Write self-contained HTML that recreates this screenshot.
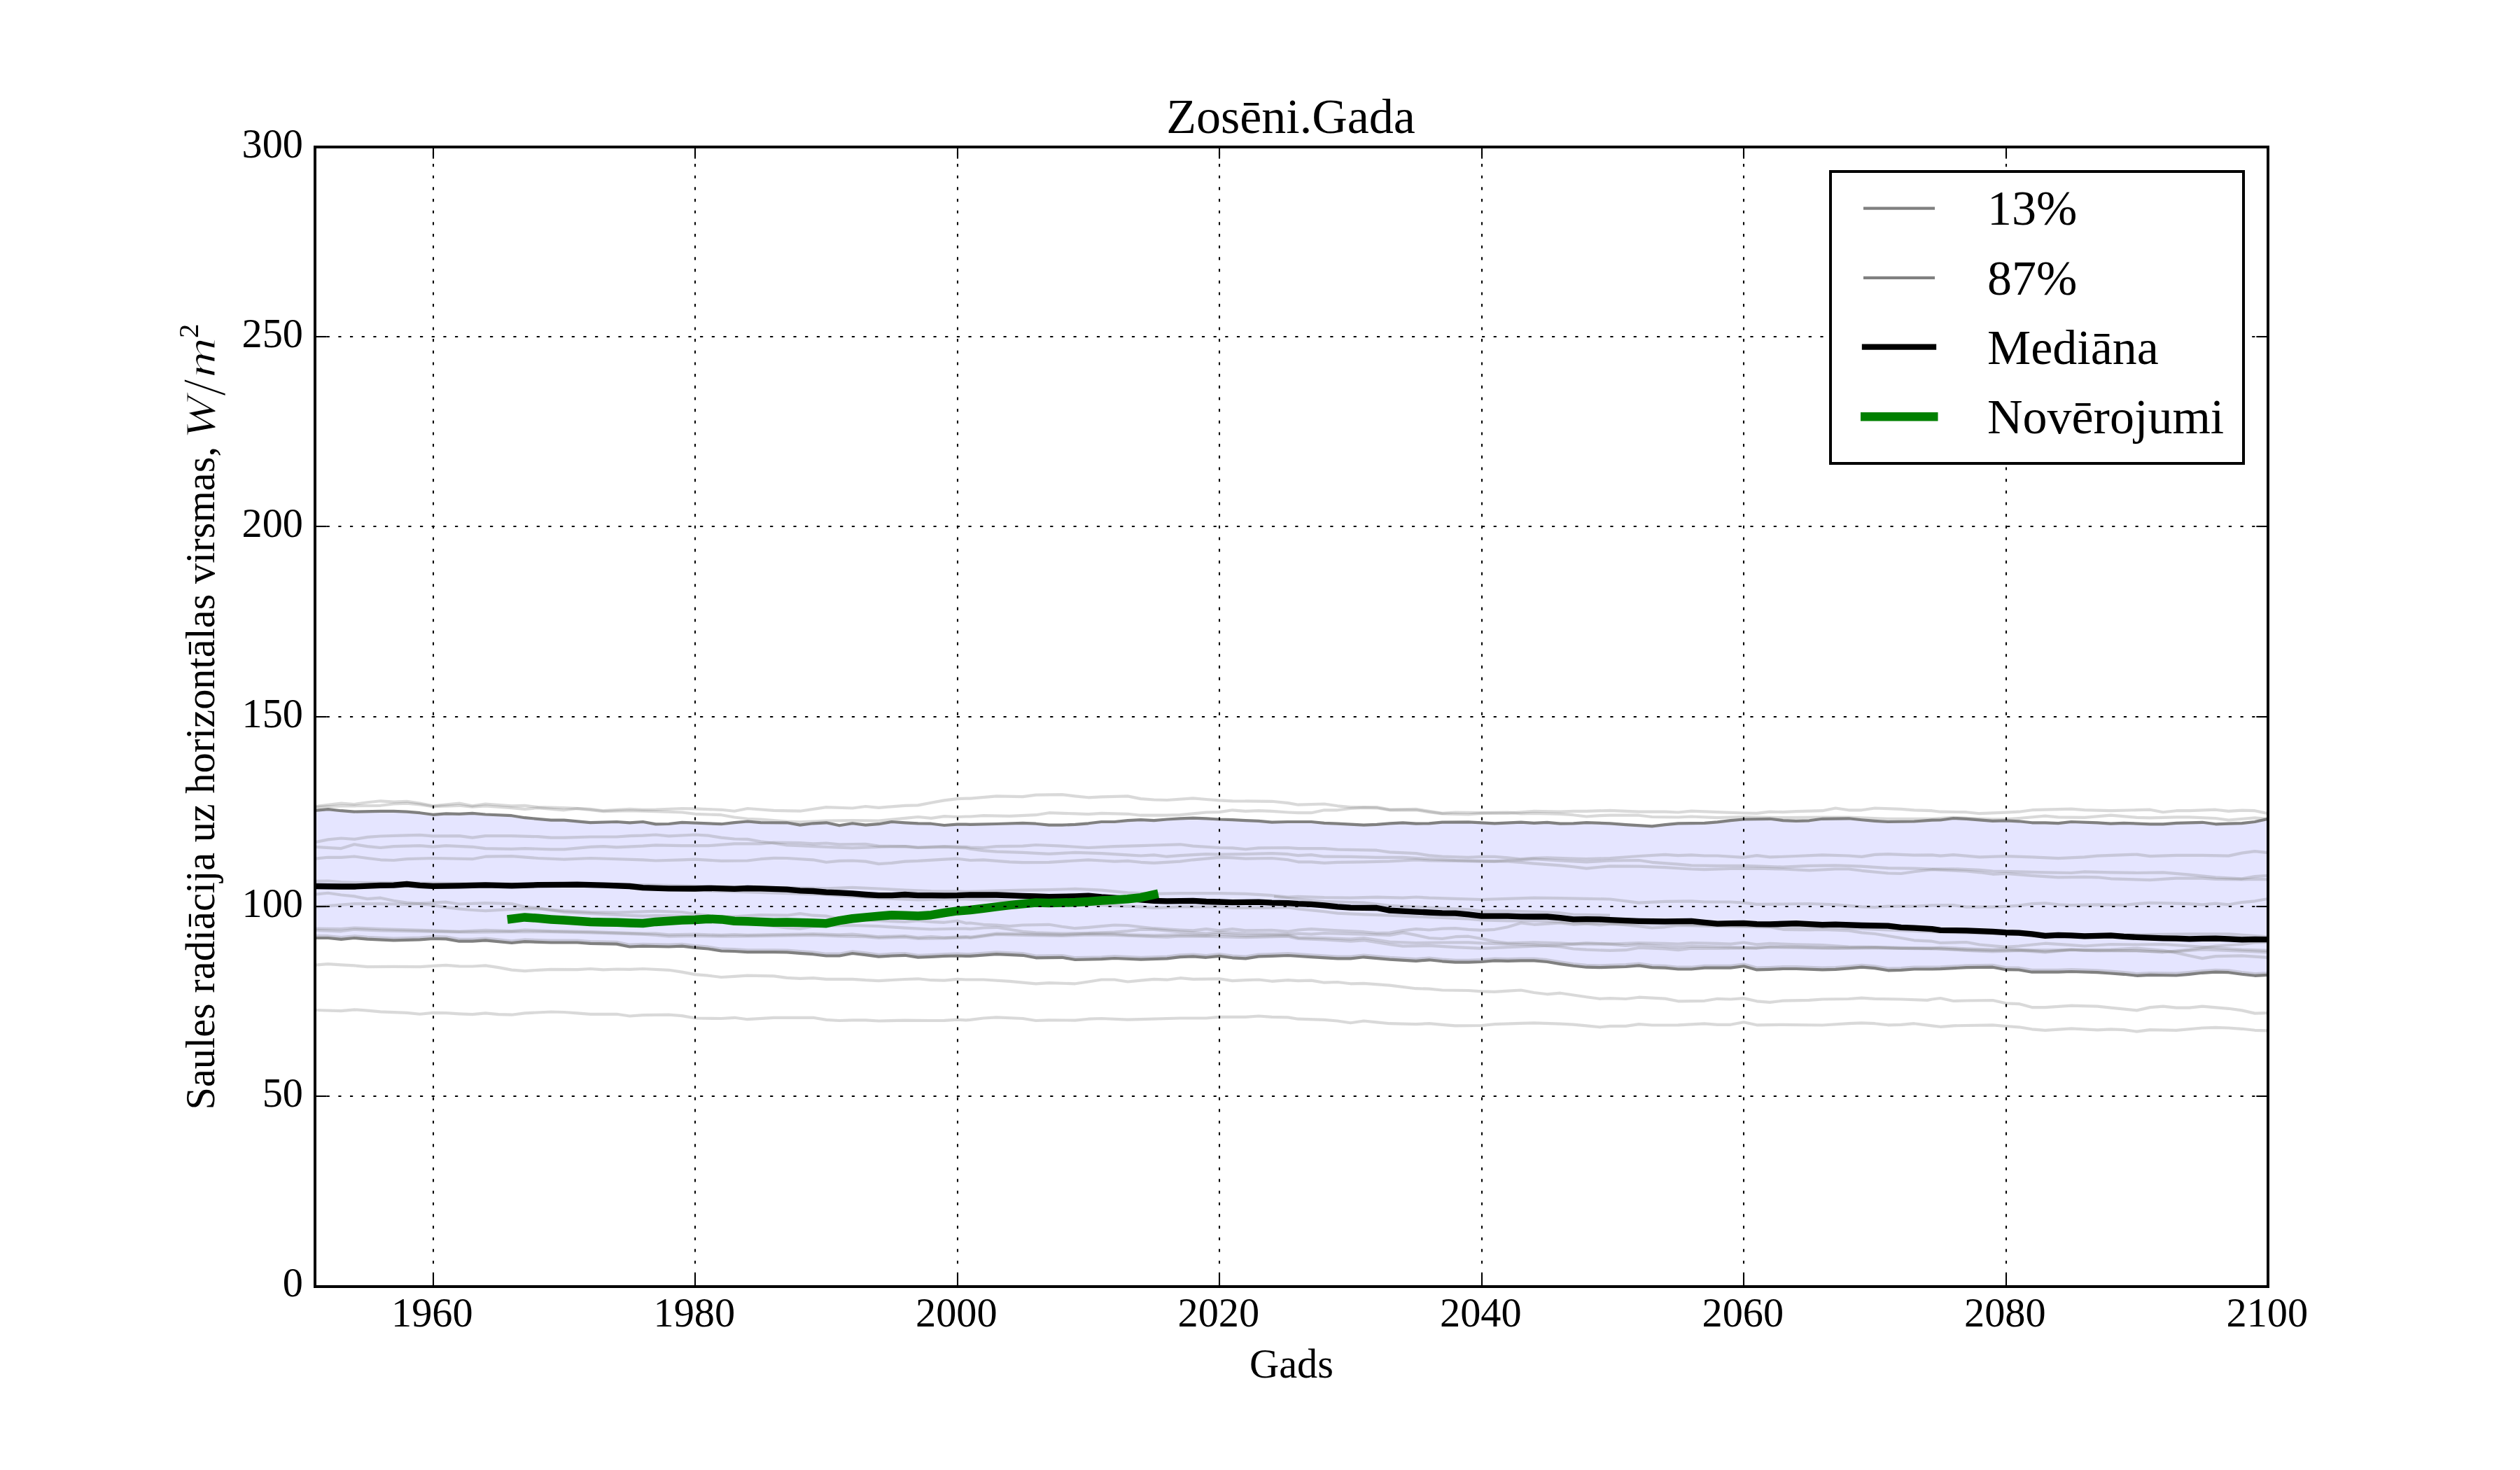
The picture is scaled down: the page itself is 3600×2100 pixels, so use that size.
<!DOCTYPE html>
<html lang="lv"><head><meta charset="utf-8"><title>Zosēni.Gada</title>
<style>html,body{margin:0;padding:0;background:#fff}svg{display:block;will-change:transform}text{font-family:"Liberation Serif","DejaVu Serif",serif;fill:#000}</style></head><body>
<svg width="3600" height="2100" viewBox="0 0 3600 2100">
<rect width="3600" height="2100" fill="#fff"/>
<defs><clipPath id="ax"><rect x="450" y="210" width="2790" height="1627.5"/></clipPath></defs>
<g clip-path="url(#ax)">
<polygon points="450.0,1157.8 468.7,1156.1 487.4,1158.2 506.2,1159.6 543.6,1158.9 562.4,1158.9 581.1,1159.6 599.8,1161.2 618.6,1163.8 637.3,1162.4 656.1,1162.8 674.8,1161.9 693.5,1163.5 731.0,1165.2 749.7,1168.2 787.2,1171.6 805.9,1171.6 843.4,1175.1 880.9,1174.0 899.6,1175.3 918.4,1174.0 936.8,1177.4 955.5,1177.0 974.3,1174.9 993.0,1175.6 1030.5,1177.2 1049.2,1175.1 1067.9,1173.5 1086.7,1175.1 1124.1,1175.3 1142.9,1178.6 1161.6,1176.3 1180.4,1175.3 1199.1,1179.3 1217.8,1176.3 1236.6,1178.6 1255.3,1177.2 1274.0,1174.0 1292.8,1175.3 1311.5,1176.3 1330.3,1176.7 1349.0,1179.0 1367.5,1177.7 1380.0,1177.7 1386.1,1177.9 1423.6,1177.0 1461.1,1175.8 1479.8,1176.7 1498.6,1178.6 1517.3,1178.6 1536.0,1177.9 1554.8,1176.3 1573.5,1174.0 1592.2,1174.0 1611.0,1172.1 1629.7,1171.2 1648.5,1172.1 1667.2,1170.5 1685.9,1169.3 1704.4,1168.6 1723.2,1169.3 1741.9,1170.5 1760.6,1171.2 1779.4,1172.1 1798.1,1172.8 1816.9,1174.6 1840.0,1174.0 1873.2,1174.0 1891.9,1175.8 1910.7,1176.7 1948.2,1178.6 1966.7,1177.9 1985.4,1176.3 2004.1,1175.3 2022.9,1176.7 2041.6,1176.3 2060.3,1174.6 2097.8,1174.4 2116.6,1175.3 2135.3,1176.3 2172.8,1174.6 2191.5,1175.8 2210.2,1174.9 2229.0,1176.7 2247.7,1176.3 2266.4,1175.1 2300.0,1176.3 2322.6,1178.1 2360.0,1180.4 2378.8,1178.1 2397.5,1176.3 2435.0,1175.8 2453.5,1174.4 2472.2,1172.1 2491.0,1170.5 2528.4,1169.8 2547.2,1172.1 2565.9,1172.8 2584.6,1172.3 2603.4,1169.8 2640.9,1169.3 2659.6,1171.2 2678.3,1172.8 2697.1,1174.0 2734.5,1173.5 2760.0,1171.6 2772.0,1171.5 2790.6,1169.0 2809.2,1169.8 2846.7,1172.8 2865.6,1172.3 2884.2,1173.3 2902.8,1175.3 2921.7,1175.3 2940.4,1176.1 2959.0,1174.0 2996.5,1175.3 3015.4,1176.6 3034.0,1175.8 3071.5,1177.3 3090.1,1177.3 3109.0,1175.8 3146.2,1174.8 3165.1,1177.3 3183.7,1176.6 3202.6,1176.1 3221.2,1174.0 3240.0,1169.8 3240.0,1392.8 3221.2,1393.8 3202.6,1391.8 3183.7,1389.2 3165.1,1388.7 3146.2,1389.8 3127.6,1391.8 3109.0,1393.5 3071.5,1392.8 3052.6,1393.8 3034.0,1391.8 3015.4,1390.5 2996.5,1389.2 2959.0,1388.0 2940.4,1388.7 2902.8,1388.7 2884.2,1385.5 2865.6,1385.2 2846.7,1381.7 2809.2,1382.2 2772.0,1384.2 2760.0,1384.5 2734.5,1384.5 2715.8,1385.8 2697.1,1386.3 2678.3,1383.1 2659.6,1381.7 2640.9,1383.3 2622.1,1384.9 2603.4,1385.4 2565.9,1384.0 2547.2,1384.0 2528.4,1384.9 2509.7,1385.4 2491.0,1380.3 2472.2,1382.6 2435.0,1382.6 2416.2,1384.5 2397.5,1384.5 2378.8,1382.6 2360.0,1382.1 2341.3,1379.4 2322.6,1381.0 2300.0,1381.7 2285.2,1382.1 2266.4,1381.7 2247.7,1379.8 2229.0,1377.1 2210.2,1374.0 2191.5,1372.4 2172.8,1372.4 2154.0,1372.9 2135.3,1372.4 2116.6,1374.0 2097.8,1374.7 2079.1,1374.7 2060.3,1373.3 2041.6,1371.3 2022.9,1372.9 1985.4,1370.6 1948.2,1367.3 1929.4,1369.4 1910.7,1369.4 1873.2,1367.1 1840.0,1365.0 1816.9,1365.9 1798.1,1366.4 1779.4,1369.4 1760.6,1368.3 1741.9,1365.9 1723.2,1367.8 1704.4,1366.4 1685.9,1367.1 1667.2,1369.4 1629.7,1370.6 1592.2,1369.0 1573.5,1370.1 1536.0,1371.0 1517.3,1367.8 1479.8,1368.3 1461.1,1364.8 1423.6,1363.2 1386.1,1365.9 1380.0,1365.9 1367.5,1365.5 1349.0,1365.9 1330.3,1366.9 1311.5,1367.6 1292.8,1364.8 1274.0,1365.5 1255.3,1366.6 1236.6,1364.1 1217.8,1362.0 1199.1,1365.5 1180.4,1365.5 1161.6,1363.2 1142.9,1361.8 1124.1,1360.4 1105.4,1360.2 1067.9,1360.2 1049.2,1359.0 1030.5,1358.5 1011.7,1355.5 993.0,1353.9 974.3,1351.6 955.5,1352.5 918.4,1351.6 899.6,1352.5 880.9,1348.6 843.4,1347.9 824.7,1346.5 787.2,1346.5 749.7,1345.1 731.0,1347.0 693.5,1343.3 674.8,1344.7 656.1,1344.7 637.3,1341.4 618.6,1341.0 599.8,1342.4 562.4,1343.3 524.9,1341.7 506.2,1340.0 487.4,1341.9 468.7,1340.0 450.0,1340.0" fill="#0000ff" fill-opacity="0.1"/>
<polyline points="450.0,1152.0 487.4,1147.6 506.2,1149.0 524.9,1146.2 543.6,1144.3 562.4,1145.7 581.1,1144.8 599.8,1147.6 618.6,1151.3 656.1,1147.6 674.8,1151.3 693.5,1148.5 731.0,1151.3 749.7,1150.8 768.5,1153.1 805.9,1154.1 843.4,1155.9 862.2,1158.2 899.6,1155.9 918.4,1156.8 936.8,1156.6 974.3,1155.0 993.0,1155.4 1030.5,1156.8 1049.2,1158.7 1067.9,1155.0 1105.4,1157.8 1142.9,1158.7 1180.4,1153.1 1217.8,1154.5 1236.6,1152.0 1255.3,1153.8 1292.8,1150.8 1311.5,1150.4 1330.3,1146.7 1349.0,1143.4 1367.5,1141.1 1380.0,1140.6 1386.1,1140.6 1423.6,1137.4 1461.1,1138.1 1479.8,1135.6 1517.3,1135.1 1536.0,1137.4 1554.8,1139.3 1573.5,1138.3 1611.0,1137.4 1629.7,1141.1 1648.5,1142.5 1667.2,1143.0 1704.4,1140.4 1723.2,1142.0 1741.9,1143.4 1760.6,1144.3 1816.9,1144.8 1840.0,1147.1 1854.5,1149.7 1891.9,1148.5 1910.7,1151.3 1929.4,1153.1 1966.7,1153.1 1985.4,1156.6 2022.9,1155.9 2041.6,1158.9 2060.3,1161.9 2079.1,1160.5 2116.6,1161.2 2154.0,1160.5 2172.8,1162.4 2191.5,1161.9 2229.0,1162.8 2247.7,1164.2 2266.4,1166.5 2285.2,1165.2 2300.0,1164.7 2341.3,1164.7 2360.0,1167.0 2397.5,1167.5 2416.2,1166.5 2453.5,1168.2 2491.0,1167.0 2547.2,1168.2 2603.8,1167.5 2640.9,1167.7 2696.4,1169.8 2760.0,1169.8 2790.3,1167.8 2845.7,1170.3 2865.6,1170.3 2884.2,1169.0 2921.7,1165.7 2940.4,1167.3 2977.9,1167.8 3015.4,1164.7 3052.6,1167.8 3071.5,1168.3 3109.0,1167.3 3127.6,1167.3 3165.1,1169.0 3183.7,1171.5 3221.2,1168.3 3240.0,1169.8" fill="none" stroke="#808080" stroke-opacity="0.3" stroke-width="4.17" stroke-linejoin="round"/>
<polyline points="450.0,1153.1 487.4,1151.3 506.2,1151.3 543.6,1150.8 562.4,1148.5 581.1,1147.6 599.8,1149.4 618.6,1152.2 656.1,1150.8 674.8,1152.7 693.5,1151.3 731.0,1154.1 749.7,1155.9 768.5,1154.1 805.9,1157.3 824.7,1155.0 862.2,1159.1 899.6,1158.2 918.4,1158.7 936.8,1159.1 974.3,1160.5 993.0,1162.8 1030.5,1164.2 1049.2,1167.5 1067.9,1169.8 1086.7,1170.7 1105.4,1172.1 1124.1,1173.5 1142.9,1174.4 1180.4,1172.6 1217.8,1172.1 1255.3,1172.6 1292.8,1168.9 1311.5,1167.0 1330.3,1168.9 1349.0,1166.1 1367.5,1167.0 1380.0,1166.5 1386.1,1166.5 1404.9,1165.2 1442.4,1165.9 1479.8,1164.2 1498.6,1161.2 1536.0,1162.4 1554.8,1163.1 1573.5,1161.9 1611.0,1162.8 1629.7,1164.7 1667.2,1164.7 1685.9,1164.2 1704.4,1162.4 1723.2,1160.5 1741.9,1160.1 1760.6,1157.3 1779.4,1158.9 1798.1,1158.2 1816.9,1158.9 1840.0,1160.5 1854.5,1161.2 1873.2,1161.2 1891.9,1157.3 1910.7,1157.3 1929.4,1155.0 1948.2,1153.8 1966.7,1154.3 1985.4,1157.3 2022.9,1157.3 2041.6,1160.1 2060.3,1162.4 2097.8,1163.5 2116.6,1161.9 2154.0,1161.9 2191.5,1158.9 2229.0,1159.6 2247.7,1158.9 2266.4,1158.9 2300.0,1157.8 2341.3,1159.6 2378.8,1159.6 2397.5,1160.5 2416.2,1158.7 2453.5,1160.1 2491.0,1161.5 2509.7,1161.9 2528.4,1159.6 2547.2,1160.1 2565.9,1159.1 2603.4,1158.2 2622.1,1154.5 2640.9,1157.3 2659.6,1157.3 2678.3,1154.5 2715.8,1155.9 2734.5,1157.3 2760.0,1158.2 2772.0,1159.7 2809.2,1160.2 2828.1,1162.2 2865.6,1160.7 2884.2,1159.7 2902.8,1157.2 2921.7,1156.7 2959.0,1155.7 2977.9,1157.2 3015.4,1158.2 3052.6,1157.2 3071.5,1156.7 3090.1,1160.2 3109.0,1158.2 3127.6,1158.2 3165.1,1156.7 3183.7,1158.9 3202.6,1157.7 3221.2,1158.2 3240.0,1162.2" fill="none" stroke="#808080" stroke-opacity="0.3" stroke-width="4.17" stroke-linejoin="round"/>
<polyline points="450.0,1203.1 468.7,1199.4 487.4,1197.5 506.2,1198.9 524.9,1195.9 543.6,1194.5 581.1,1193.4 599.8,1192.9 618.6,1194.3 656.1,1194.1 674.8,1196.6 693.5,1194.1 731.0,1194.1 768.5,1195.2 787.2,1196.6 805.9,1196.6 843.4,1195.5 880.9,1195.5 899.6,1194.1 918.4,1193.6 936.8,1192.5 955.5,1194.3 993.0,1192.5 1011.7,1193.6 1030.5,1196.6 1049.2,1198.5 1067.9,1198.9 1086.7,1202.2 1105.4,1204.5 1124.1,1207.5 1142.9,1208.2 1180.4,1209.8 1217.8,1211.4 1255.3,1209.8 1292.8,1209.1 1311.5,1211.0 1349.0,1209.8 1380.0,1211.4 1386.1,1212.8 1404.9,1215.1 1423.6,1216.7 1461.1,1217.9 1498.6,1219.8 1536.0,1217.9 1573.5,1219.1 1611.0,1221.4 1629.7,1222.5 1648.5,1221.4 1667.2,1223.7 1685.9,1222.1 1723.2,1220.2 1741.9,1220.7 1779.4,1220.2 1816.9,1219.1 1840.0,1220.2 1854.5,1222.1 1873.2,1221.1 1891.9,1223.7 1929.4,1223.9 1966.7,1224.8 2004.1,1224.8 2041.6,1227.2 2079.1,1229.0 2116.6,1229.9 2154.0,1230.6 2172.8,1231.8 2191.5,1233.6 2229.0,1236.4 2247.7,1238.3 2266.4,1240.6 2285.2,1238.7 2300.0,1237.3 2341.3,1237.6 2378.8,1239.2 2416.2,1241.5 2435.0,1242.2 2472.2,1241.0 2509.7,1240.6 2547.2,1241.5 2584.6,1243.3 2622.1,1241.5 2640.9,1241.5 2659.6,1243.8 2697.1,1247.5 2715.8,1248.0 2734.5,1245.2 2760.0,1242.2 2809.2,1244.5 2828.1,1246.3 2846.7,1248.8 2865.6,1247.8 2902.8,1250.8 2940.4,1253.3 2977.9,1252.8 2996.5,1253.3 3015.4,1255.3 3071.5,1257.1 3090.1,1255.8 3109.0,1254.6 3146.2,1254.6 3165.1,1255.8 3202.6,1256.4 3221.2,1255.8 3240.0,1256.4" fill="none" stroke="#808080" stroke-opacity="0.3" stroke-width="4.17" stroke-linejoin="round"/>
<polyline points="450.0,1209.8 487.4,1212.1 506.2,1206.3 524.9,1209.1 543.6,1211.0 562.4,1209.1 599.8,1208.2 618.6,1209.6 637.3,1208.2 674.8,1209.8 693.5,1212.1 731.0,1212.8 749.7,1212.1 787.2,1213.3 805.9,1213.3 843.4,1209.8 862.2,1209.1 880.9,1210.3 918.4,1208.6 936.8,1207.3 974.3,1208.2 1011.7,1208.2 1049.2,1205.4 1086.7,1205.4 1105.4,1203.6 1142.9,1204.0 1161.6,1205.4 1180.4,1204.5 1199.1,1206.3 1236.6,1205.9 1255.3,1208.6 1292.8,1209.1 1311.5,1210.5 1349.0,1209.1 1380.0,1209.8 1386.1,1210.5 1404.9,1211.0 1423.6,1209.1 1461.1,1208.6 1479.8,1207.0 1517.3,1208.6 1554.8,1211.0 1592.2,1209.1 1629.7,1208.2 1648.5,1207.5 1685.9,1206.3 1704.4,1208.6 1741.9,1211.0 1760.6,1211.4 1779.4,1213.3 1798.1,1211.4 1840.0,1211.0 1854.5,1212.1 1891.9,1212.1 1910.7,1213.7 1966.7,1214.7 1985.4,1217.4 2022.9,1219.1 2041.6,1222.1 2060.3,1223.7 2097.8,1224.8 2116.6,1223.9 2135.3,1223.9 2154.0,1225.3 2172.8,1227.2 2191.5,1225.8 2210.2,1225.3 2247.7,1226.7 2266.4,1227.2 2300.0,1226.0 2341.3,1223.0 2378.8,1220.9 2397.5,1222.1 2416.2,1221.4 2435.0,1222.5 2453.5,1222.5 2491.0,1224.8 2509.7,1222.1 2528.4,1224.4 2565.9,1223.0 2603.4,1221.4 2640.9,1222.5 2659.6,1223.9 2678.3,1220.9 2697.1,1220.2 2734.5,1221.6 2760.0,1221.4 2772.0,1222.6 2790.6,1221.1 2828.1,1224.4 2865.6,1223.1 2902.8,1224.4 2940.4,1226.1 2977.9,1224.4 2996.5,1222.6 3052.6,1220.6 3071.5,1223.1 3109.0,1221.9 3146.2,1221.9 3183.7,1222.6 3202.6,1218.6 3221.2,1216.1 3240.0,1218.1" fill="none" stroke="#808080" stroke-opacity="0.3" stroke-width="4.17" stroke-linejoin="round"/>
<polyline points="450.0,1226.7 468.7,1224.8 487.4,1224.8 506.2,1223.5 524.9,1226.0 543.6,1228.3 562.4,1229.0 581.1,1227.2 618.6,1226.0 674.8,1227.2 693.5,1223.7 731.0,1223.2 768.5,1226.0 805.9,1227.6 843.4,1226.0 918.4,1228.3 936.8,1229.5 974.3,1228.3 993.0,1227.6 1030.5,1229.9 1067.9,1229.5 1086.7,1227.2 1105.4,1225.8 1124.1,1226.0 1161.6,1228.3 1180.4,1231.8 1199.1,1229.9 1217.8,1229.5 1236.6,1230.6 1255.3,1234.1 1274.0,1232.9 1292.8,1230.6 1311.5,1229.9 1349.0,1227.6 1367.5,1226.7 1380.0,1228.3 1386.1,1229.0 1404.9,1228.3 1442.4,1231.3 1461.1,1232.2 1498.6,1231.8 1536.0,1229.5 1554.8,1228.3 1573.5,1229.5 1592.2,1230.6 1611.0,1229.9 1629.7,1231.8 1648.5,1232.9 1685.9,1230.6 1704.4,1228.3 1741.9,1224.8 1760.6,1225.3 1779.4,1226.7 1816.9,1226.0 1840.0,1228.3 1854.5,1231.3 1873.2,1231.3 1891.9,1232.9 1910.7,1231.8 1948.2,1231.3 1985.4,1230.4 2022.9,1228.3 2041.6,1229.5 2079.1,1229.9 2116.6,1230.6 2135.3,1230.6 2154.0,1229.0 2172.8,1228.3 2191.5,1227.2 2229.0,1229.5 2266.4,1231.3 2300.0,1229.5 2341.3,1229.0 2360.0,1231.8 2397.5,1234.6 2416.2,1236.4 2453.5,1236.9 2491.0,1236.9 2509.7,1237.3 2547.2,1238.7 2584.6,1236.9 2622.1,1236.4 2659.6,1237.6 2697.1,1240.1 2734.5,1240.6 2760.0,1241.5 2790.6,1241.3 2828.1,1242.8 2846.7,1244.5 2884.2,1245.3 2921.7,1246.3 2959.0,1247.0 2977.9,1245.3 3015.4,1246.3 3052.6,1247.0 3090.1,1246.3 3127.6,1249.6 3165.1,1253.3 3202.6,1255.3 3221.2,1252.1 3240.0,1250.8" fill="none" stroke="#808080" stroke-opacity="0.3" stroke-width="4.17" stroke-linejoin="round"/>
<polyline points="450.0,1258.8 468.7,1258.6 487.4,1260.0 506.2,1260.9 581.1,1261.4 694.5,1262.3 918.4,1264.2 1038.8,1266.9 1161.6,1268.8 1180.4,1269.3 1217.8,1267.9 1255.3,1269.5 1292.8,1271.6 1330.3,1273.0 1367.5,1273.4 1380.0,1273.9 1423.6,1272.5 1461.1,1271.6 1498.6,1271.1 1536.0,1269.9 1573.5,1271.6 1611.0,1275.3 1648.5,1276.9 1685.9,1276.2 1741.9,1276.2 1779.4,1276.9 1816.9,1279.2 1840.0,1281.5 1854.5,1280.8 1891.9,1282.2 1929.4,1282.7 1966.7,1281.7 2004.1,1282.7 2022.9,1281.5 2041.6,1282.7 2079.1,1283.8 2116.6,1285.0 2154.0,1283.8 2191.5,1282.7 2229.0,1283.1 2266.4,1283.8 2300.0,1284.5 2341.3,1289.6 2378.8,1287.8 2416.2,1287.3 2435.0,1288.5 2472.2,1288.5 2491.0,1289.6 2509.7,1291.9 2547.2,1291.5 2584.6,1291.0 2622.1,1292.4 2659.6,1295.4 2678.3,1296.1 2697.1,1294.7 2734.5,1294.7 2760.0,1293.3 2790.6,1293.1 2809.2,1295.6 2846.7,1295.6 2865.6,1294.9 2884.2,1293.6 2902.8,1291.1 2921.7,1290.3 2940.4,1292.3 2959.0,1293.1 2996.5,1292.3 3034.0,1293.1 3052.6,1291.1 3071.5,1289.8 3109.0,1290.6 3127.6,1291.1 3146.2,1292.3 3165.1,1290.6 3183.7,1292.3 3202.6,1289.1 3221.2,1287.3 3240.0,1284.0" fill="none" stroke="#808080" stroke-opacity="0.3" stroke-width="4.17" stroke-linejoin="round"/>
<polyline points="1820.0,1280.8 1854.5,1284.5 1891.9,1287.8 1948.2,1289.6 1985.4,1293.8 2022.9,1295.6 2060.3,1297.5 2097.8,1299.3 2116.6,1301.6 2154.0,1301.6 2191.5,1302.6 2229.0,1304.2 2247.7,1306.5 2300.0,1307.7" fill="none" stroke="#808080" stroke-opacity="0.3" stroke-width="4.17" stroke-linejoin="round"/>
<polyline points="450.0,1277.6 468.7,1275.7 487.4,1278.5 506.2,1280.4 524.9,1284.1 543.6,1282.7 562.4,1286.8 581.1,1289.6 599.8,1291.2 618.6,1293.1 637.3,1296.1 656.1,1298.4 674.8,1300.0 693.5,1301.2 731.0,1298.9 768.5,1298.4 805.9,1301.2 843.4,1303.0 880.9,1303.5 918.4,1302.3 936.8,1301.6 974.3,1303.0 993.0,1305.8 1011.7,1307.7 1049.2,1315.1 1105.4,1323.2 1124.1,1325.5 1142.9,1326.6 1161.6,1323.8 1180.4,1322.5 1217.8,1322.0 1255.3,1323.2 1292.8,1325.7 1330.3,1327.5 1367.5,1326.6 1380.0,1326.6 1386.1,1327.1 1404.9,1325.5 1423.6,1324.8 1442.4,1327.8 1461.1,1330.8 1479.8,1332.4 1517.3,1333.6 1554.8,1333.1 1592.2,1331.7 1611.0,1330.1 1629.7,1327.8 1648.5,1327.8 1685.9,1331.2 1723.2,1333.6 1741.9,1331.7 1779.4,1333.6 1840.0,1334.7 1854.5,1333.6 1873.2,1334.7 1891.9,1333.1 1910.7,1333.6 1948.2,1334.7 1985.4,1335.9 2004.1,1332.4 2022.9,1335.9 2041.6,1340.0 2060.3,1341.0 2079.1,1338.2 2097.8,1337.7 2116.6,1341.0 2135.3,1345.1 2154.0,1347.4 2191.5,1346.3 2229.0,1347.4 2247.7,1348.6 2266.4,1347.0 2300.0,1348.6 2341.3,1347.0 2378.8,1347.9 2397.5,1348.6 2416.2,1347.0 2453.5,1347.9 2472.2,1348.6 2491.0,1346.5 2509.7,1349.3 2528.4,1347.9 2565.9,1349.3 2603.4,1350.2 2640.9,1352.5 2678.3,1353.2 2715.8,1353.9 2760.0,1354.8 2772.0,1353.5 2809.2,1355.3 2846.7,1356.5 2865.6,1355.3 2902.8,1357.8 2921.7,1359.5 2959.0,1356.5 2977.9,1357.8 3015.4,1357.8 3052.6,1358.5 3090.1,1359.5 3109.0,1359.5 3146.2,1356.5 3183.7,1357.8 3221.2,1359.5 3240.0,1360.3" fill="none" stroke="#808080" stroke-opacity="0.3" stroke-width="4.17" stroke-linejoin="round"/>
<polyline points="450.0,1295.6 468.7,1294.2 506.2,1291.2 543.6,1291.2 581.1,1291.9 618.6,1289.6 637.3,1288.7 656.1,1291.5 693.5,1290.1 731.0,1291.0 749.7,1295.6 768.5,1297.0 787.2,1300.3 805.9,1303.0 843.4,1304.9 880.9,1307.0 918.4,1308.6 936.8,1308.1 974.3,1308.6 993.0,1309.3 1049.2,1309.3 1086.7,1307.2 1124.1,1307.7 1142.9,1305.1 1161.6,1307.7 1180.4,1308.6 1199.1,1312.7 1217.8,1313.9 1255.3,1315.1 1292.8,1316.9 1311.5,1315.1 1330.3,1316.9 1349.0,1317.8 1367.5,1315.5 1380.0,1318.8 1386.1,1318.5 1404.9,1320.8 1423.6,1321.5 1442.4,1323.2 1461.1,1321.5 1498.6,1320.8 1517.3,1323.8 1536.0,1326.2 1554.8,1324.8 1573.5,1323.2 1592.2,1321.5 1611.0,1322.0 1629.7,1324.3 1648.5,1326.2 1685.9,1328.5 1704.4,1329.4 1723.2,1327.1 1741.9,1329.4 1760.6,1327.1 1779.4,1329.4 1816.9,1328.9 1840.0,1330.8 1854.5,1328.5 1873.2,1327.1 1910.7,1329.4 1948.2,1331.2 1966.7,1333.1 1985.4,1332.6 2004.1,1329.4 2022.9,1327.1 2041.6,1328.5 2060.3,1326.6 2079.1,1326.2 2097.8,1327.8 2116.6,1328.9 2135.3,1327.8 2154.0,1324.3 2172.8,1318.5 2191.5,1320.8 2229.0,1318.5 2247.7,1320.8 2266.4,1319.7 2285.2,1321.5 2300.0,1320.1 2341.3,1319.7 2397.5,1320.1 2511.3,1323.2 2627.0,1325.5 2760.0,1331.2 2865.8,1334.4 2991.7,1335.9 3127.6,1334.4 3183.7,1334.4 3240.0,1338.4" fill="none" stroke="#808080" stroke-opacity="0.3" stroke-width="4.17" stroke-linejoin="round"/>
<polyline points="450.0,1326.6 487.4,1327.1 506.2,1325.5 543.6,1327.1 618.6,1329.4 656.1,1330.8 693.5,1328.9 731.0,1330.1 749.7,1328.5 787.2,1330.1 843.4,1331.2 918.4,1333.6 936.8,1333.6 955.5,1335.4 993.0,1334.7 1030.5,1335.9 1049.2,1335.0 1067.9,1335.9 1105.4,1335.0 1142.9,1334.5 1161.6,1334.0 1199.1,1335.4 1217.8,1334.7 1236.6,1336.3 1255.3,1338.2 1292.8,1337.0 1311.5,1339.3 1330.3,1338.2 1349.0,1339.3 1380.0,1338.2 1386.1,1338.7 1404.9,1336.3 1423.6,1333.6 1461.1,1334.0 1479.8,1334.7 1517.3,1335.4 1554.8,1333.6 1592.2,1334.0 1611.0,1335.4 1648.5,1336.3 1685.9,1335.4 1723.2,1336.3 1741.9,1334.7 1779.4,1337.0 1840.0,1335.9 1854.5,1339.3 1891.9,1340.0 1929.4,1341.7 1948.2,1340.0 1966.7,1342.8 1985.4,1345.6 2022.9,1347.0 2060.3,1346.5 2097.8,1346.3 2116.6,1347.4 2154.0,1348.6 2191.5,1349.8 2229.0,1352.5 2247.7,1355.5 2266.4,1356.7 2300.0,1357.9 2322.6,1357.2 2341.3,1353.9 2378.8,1355.5 2397.5,1357.2 2416.2,1354.8 2453.5,1354.8 2491.0,1354.4 2528.4,1353.2 2565.9,1353.9 2622.1,1354.8 2678.3,1354.4 2760.0,1355.5 2846.7,1357.8 3015.4,1356.5 3052.6,1354.5 3090.1,1357.8 3109.0,1361.1 3127.6,1365.3 3146.2,1369.1 3165.1,1366.1 3202.6,1365.3 3221.2,1366.6 3240.0,1367.9" fill="none" stroke="#808080" stroke-opacity="0.3" stroke-width="4.17" stroke-linejoin="round"/>
<polyline points="450.0,1328.9 487.4,1330.3 506.2,1327.8 543.6,1329.4 618.6,1330.8 674.8,1331.7 731.0,1331.2 787.2,1331.2 843.4,1332.4 918.4,1334.7 936.8,1335.9 955.5,1337.7 993.0,1337.0 1030.5,1337.7 1067.9,1337.3 1105.4,1336.8 1161.6,1335.9 1199.1,1337.3 1236.6,1338.2 1255.3,1340.0 1292.8,1338.7 1311.5,1341.0 1349.0,1340.5 1380.0,1339.3 1386.1,1340.0 1423.6,1335.0 1461.1,1335.9 1517.3,1337.0 1554.8,1335.4 1592.2,1335.9 1648.5,1338.2 1667.2,1338.7 1685.9,1337.3 1723.2,1337.7 1779.4,1339.1 1840.0,1337.7 1854.5,1341.0 1891.9,1342.4 1929.4,1344.7 1948.2,1343.3 1985.4,1349.3 2004.1,1351.6 2041.6,1350.9 2079.1,1353.2 2116.6,1354.8 2154.0,1353.2 2191.5,1351.6 2229.0,1350.2 2247.7,1348.6 2300.0,1348.6 2322.6,1350.9 2341.3,1349.3 2378.8,1352.1 2397.5,1353.2 2416.2,1351.6 2453.5,1352.5 2491.0,1353.9 2509.7,1354.8 2528.4,1352.5 2565.9,1352.5 2603.4,1353.9 2640.9,1353.9 2678.3,1353.2 2715.8,1354.8 2760.0,1354.4 2809.2,1357.8 2846.7,1359.5 2884.2,1357.8 2921.7,1360.3 2959.0,1357.0 2996.5,1358.5 3052.6,1357.8 3090.1,1360.3 3127.6,1356.5 3165.1,1351.5 3202.6,1349.0 3221.2,1346.5 3240.0,1346.0" fill="none" stroke="#808080" stroke-opacity="0.3" stroke-width="4.17" stroke-linejoin="round"/>
<polyline points="450.0,1378.7 468.7,1377.1 487.4,1378.4 506.2,1379.4 524.9,1381.2 562.4,1380.8 599.8,1381.2 618.6,1379.8 637.3,1378.9 656.1,1380.3 674.8,1380.5 693.5,1379.4 712.3,1382.1 731.0,1385.6 749.7,1387.2 768.5,1385.8 787.2,1384.9 824.7,1385.1 843.4,1384.0 862.2,1385.4 880.9,1384.5 899.6,1384.9 918.4,1384.0 955.5,1385.8 974.3,1388.6 993.0,1392.1 1011.7,1393.7 1030.5,1396.0 1049.2,1394.9 1067.9,1393.7 1105.4,1394.4 1124.1,1396.9 1142.9,1397.9 1161.6,1397.2 1180.4,1398.8 1217.8,1398.8 1236.6,1400.2 1255.3,1401.1 1292.8,1399.0 1311.5,1398.3 1330.3,1400.2 1349.0,1400.6 1367.5,1398.8 1380.0,1399.5 1404.9,1399.5 1442.4,1401.8 1479.8,1405.3 1498.6,1404.1 1536.0,1405.3 1554.8,1402.5 1573.5,1399.5 1592.2,1399.5 1611.0,1402.5 1629.7,1400.6 1648.5,1398.8 1667.2,1399.7 1685.9,1397.2 1704.4,1398.8 1741.9,1398.3 1760.6,1401.1 1779.4,1400.2 1798.1,1399.5 1816.9,1401.8 1840.0,1400.2 1854.5,1401.1 1873.2,1400.6 1891.9,1403.7 1910.7,1403.0 1929.4,1405.3 1948.2,1404.8 1985.4,1407.6 2022.9,1412.2 2041.6,1412.7 2060.3,1414.5 2097.8,1415.0 2116.6,1416.4 2135.3,1416.8 2154.0,1415.7 2172.8,1414.5 2191.5,1418.0 2210.2,1420.3 2229.0,1418.7 2247.7,1421.5 2266.4,1424.2 2285.2,1426.8 2300.0,1426.1 2322.6,1427.0 2341.3,1424.7 2378.8,1426.6 2397.5,1430.3 2435.0,1429.8 2453.5,1426.8 2472.2,1427.5 2491.0,1426.1 2509.7,1430.3 2528.4,1431.9 2547.2,1429.6 2584.6,1428.9 2603.4,1427.5 2640.9,1427.0 2659.6,1425.6 2678.3,1426.8 2715.8,1427.5 2753.3,1428.9 2760.0,1427.5 2772.0,1426.0 2790.6,1430.0 2809.2,1429.5 2846.7,1429.0 2865.6,1433.3 2884.2,1434.1 2902.8,1439.1 2921.7,1439.1 2959.0,1436.6 2996.5,1437.6 3015.4,1439.6 3052.6,1443.4 3071.5,1439.1 3090.1,1437.6 3109.0,1439.6 3127.6,1439.6 3146.2,1437.6 3183.7,1440.8 3202.6,1443.4 3221.2,1447.6 3240.0,1447.1" fill="none" stroke="#808080" stroke-opacity="0.3" stroke-width="4.17" stroke-linejoin="round"/>
<polyline points="450.0,1443.0 487.4,1444.1 506.2,1442.3 524.9,1443.7 543.6,1445.3 581.1,1446.9 599.8,1448.8 618.6,1446.9 637.3,1447.1 656.1,1448.3 674.8,1449.2 693.5,1447.4 712.3,1449.2 731.0,1449.7 749.7,1447.4 787.2,1445.5 805.9,1446.0 824.7,1447.4 843.4,1448.8 880.9,1448.8 899.6,1451.5 918.4,1450.1 955.5,1449.7 974.3,1451.1 993.0,1454.5 1030.5,1455.0 1049.2,1453.8 1067.9,1456.2 1105.4,1453.8 1161.6,1453.8 1180.4,1456.9 1199.1,1458.0 1217.8,1457.3 1236.6,1457.3 1255.3,1458.5 1292.8,1457.6 1330.3,1458.0 1349.0,1457.8 1367.5,1456.6 1380.0,1457.3 1386.1,1456.9 1404.9,1454.5 1423.6,1453.4 1461.1,1455.0 1479.8,1458.0 1498.6,1457.3 1536.0,1457.6 1554.8,1455.7 1573.5,1455.0 1611.0,1456.6 1629.7,1456.2 1685.9,1454.5 1723.2,1454.5 1741.9,1452.9 1779.4,1452.9 1798.1,1451.5 1816.9,1452.9 1840.0,1453.4 1854.5,1455.7 1891.9,1456.9 1910.7,1458.5 1929.4,1461.3 1948.2,1458.5 1966.7,1460.3 1985.4,1462.2 2022.9,1463.1 2041.6,1462.2 2060.3,1463.8 2079.1,1465.4 2116.6,1465.0 2135.3,1463.1 2172.8,1461.9 2191.5,1461.3 2229.0,1462.6 2247.7,1463.6 2266.4,1465.4 2285.2,1467.3 2300.0,1465.9 2322.6,1465.9 2341.3,1463.1 2360.0,1464.5 2397.5,1464.3 2435.0,1462.4 2453.5,1463.8 2472.2,1463.8 2491.0,1460.3 2509.7,1464.3 2547.2,1463.8 2603.4,1464.5 2640.9,1462.2 2659.6,1461.3 2678.3,1462.2 2697.1,1464.3 2715.8,1463.8 2734.5,1462.2 2760.0,1465.4 2772.0,1466.8 2790.6,1465.3 2846.7,1464.3 2865.6,1466.0 2884.2,1467.3 2902.8,1470.3 2921.7,1471.8 2959.0,1469.3 2996.5,1471.3 3015.4,1470.3 3034.0,1471.1 3052.6,1473.6 3071.5,1471.1 3109.0,1471.8 3146.2,1468.5 3165.1,1467.8 3183.7,1468.5 3202.6,1469.8 3221.2,1471.8 3240.0,1472.3" fill="none" stroke="#808080" stroke-opacity="0.3" stroke-width="4.17" stroke-linejoin="round"/>
<polyline points="450.0,1337.2 468.7,1337.2 487.4,1339.1 506.2,1337.2 524.9,1338.9 562.4,1340.5 599.8,1339.6 618.6,1338.2 637.3,1338.6 656.1,1341.9 674.8,1341.9 693.5,1340.5 731.0,1344.2 749.7,1342.3 787.2,1343.7 824.7,1343.7 843.4,1345.1 880.9,1345.8 899.6,1349.7 918.4,1348.8 955.5,1349.7 974.3,1348.8 993.0,1351.1 1011.7,1352.7 1030.5,1355.7 1049.2,1356.2 1067.9,1357.4 1105.4,1357.4 1124.1,1357.6 1142.9,1359.0 1161.6,1360.4 1180.4,1362.7 1199.1,1362.7 1217.8,1359.2 1236.6,1361.3 1255.3,1363.8 1274.0,1362.7 1292.8,1362.0 1311.5,1364.8 1330.3,1364.1 1349.0,1363.1 1367.5,1362.7 1380.0,1363.1 1386.1,1363.1 1423.6,1360.4 1461.1,1362.0 1479.8,1365.5 1517.3,1365.0 1536.0,1368.2 1573.5,1367.3 1592.2,1366.2 1629.7,1367.8 1667.2,1366.6 1685.9,1364.3 1704.4,1363.6 1723.2,1365.0 1741.9,1363.1 1760.6,1365.5 1779.4,1366.6 1798.1,1363.6 1816.9,1363.1 1840.0,1362.2 1873.2,1364.3 1910.7,1366.6 1929.4,1366.6 1948.2,1364.5 1985.4,1367.8 2022.9,1370.1 2041.6,1368.5 2060.3,1370.5 2079.1,1371.9 2097.8,1371.9 2116.6,1371.2 2135.3,1369.6 2154.0,1370.1 2172.8,1369.6 2191.5,1369.6 2210.2,1371.2 2229.0,1374.3 2247.7,1377.0 2266.4,1378.9 2285.2,1379.3 2300.0,1378.9 2322.6,1378.2 2341.3,1376.6 2360.0,1379.3 2378.8,1379.8 2397.5,1381.7 2416.2,1381.7 2435.0,1379.8 2472.2,1379.8 2491.0,1377.5 2509.7,1382.6 2528.4,1382.1 2547.2,1381.2 2565.9,1381.2 2603.4,1382.6 2622.1,1382.1 2640.9,1380.5 2659.6,1378.9 2678.3,1380.3 2697.1,1383.5 2715.8,1383.0 2734.5,1381.7 2760.0,1381.7 2772.0,1381.4 2809.2,1379.4 2846.7,1378.9 2865.6,1382.4 2884.2,1382.7 2902.8,1385.9 2940.4,1385.9 2959.0,1385.2 2996.5,1386.4 3015.4,1387.7 3034.0,1389.0 3052.6,1391.0 3071.5,1390.0 3109.0,1390.7 3127.6,1389.0 3146.2,1387.0 3165.1,1385.9 3183.7,1386.4 3202.6,1389.0 3221.2,1391.0 3240.0,1390.0" fill="none" stroke="#808080" stroke-opacity="0.3" stroke-width="4.17" stroke-linejoin="round"/>
<polyline points="900.0,1268.8 1177.6,1278.0 1255.3,1283.1 1311.5,1285.4 1349.0,1284.5 1380.0,1284.5 1406.3,1285.4 1498.8,1289.6 1591.3,1293.8 1629.7,1295.4 1648.5,1297.0 1685.9,1295.4 1741.9,1295.4 1760.6,1297.0 1816.9,1296.6 1840.0,1296.1 1854.5,1298.4 1891.9,1302.3 1910.7,1304.6 1948.2,1306.3 1985.4,1307.7 2022.9,1309.3 2060.3,1310.9 2097.8,1312.7 2116.6,1314.4 2154.0,1315.5 2191.5,1315.1 2229.0,1316.9 2247.7,1318.5 2300.0,1319.2 2341.3,1323.2 2360.0,1325.5 2378.8,1324.3 2397.5,1322.0 2453.5,1323.2 2528.4,1324.3 2547.2,1327.8 2584.6,1328.5 2603.4,1327.8 2640.9,1329.4 2659.6,1332.4 2678.3,1334.0 2697.1,1337.0 2715.8,1340.0 2734.5,1343.3 2760.0,1344.7 2772.0,1347.0 2809.2,1346.0 2828.1,1349.5 2865.6,1352.8 2884.2,1351.5 2921.7,1347.7 2959.0,1350.2 2977.9,1351.5 3015.4,1349.0 3052.6,1349.5 3090.1,1349.0 3127.6,1351.5 3165.1,1354.0 3202.6,1356.5 3240.0,1357.8" fill="none" stroke="#808080" stroke-opacity="0.3" stroke-width="4.17" stroke-linejoin="round"/>
<polyline points="450.0,1340.0 468.7,1340.0 487.4,1341.9 506.2,1340.0 524.9,1341.7 562.4,1343.3 599.8,1342.4 618.6,1341.0 637.3,1341.4 656.1,1344.7 674.8,1344.7 693.5,1343.3 731.0,1347.0 749.7,1345.1 787.2,1346.5 824.7,1346.5 843.4,1347.9 880.9,1348.6 899.6,1352.5 918.4,1351.6 955.5,1352.5 974.3,1351.6 993.0,1353.9 1011.7,1355.5 1030.5,1358.5 1049.2,1359.0 1067.9,1360.2 1105.4,1360.2 1124.1,1360.4 1142.9,1361.8 1161.6,1363.2 1180.4,1365.5 1199.1,1365.5 1217.8,1362.0 1236.6,1364.1 1255.3,1366.6 1274.0,1365.5 1292.8,1364.8 1311.5,1367.6 1330.3,1366.9 1349.0,1365.9 1367.5,1365.5 1380.0,1365.9 1386.1,1365.9 1423.6,1363.2 1461.1,1364.8 1479.8,1368.3 1517.3,1367.8 1536.0,1371.0 1573.5,1370.1 1592.2,1369.0 1629.7,1370.6 1667.2,1369.4 1685.9,1367.1 1704.4,1366.4 1723.2,1367.8 1741.9,1365.9 1760.6,1368.3 1779.4,1369.4 1798.1,1366.4 1816.9,1365.9 1840.0,1365.0 1873.2,1367.1 1910.7,1369.4 1929.4,1369.4 1948.2,1367.3 1985.4,1370.6 2022.9,1372.9 2041.6,1371.3 2060.3,1373.3 2079.1,1374.7 2097.8,1374.7 2116.6,1374.0 2135.3,1372.4 2154.0,1372.9 2172.8,1372.4 2191.5,1372.4 2210.2,1374.0 2229.0,1377.1 2247.7,1379.8 2266.4,1381.7 2285.2,1382.1 2300.0,1381.7 2322.6,1381.0 2341.3,1379.4 2360.0,1382.1 2378.8,1382.6 2397.5,1384.5 2416.2,1384.5 2435.0,1382.6 2472.2,1382.6 2491.0,1380.3 2509.7,1385.4 2528.4,1384.9 2547.2,1384.0 2565.9,1384.0 2603.4,1385.4 2622.1,1384.9 2640.9,1383.3 2659.6,1381.7 2678.3,1383.1 2697.1,1386.3 2715.8,1385.8 2734.5,1384.5 2760.0,1384.5 2772.0,1384.2 2809.2,1382.2 2846.7,1381.7 2865.6,1385.2 2884.2,1385.5 2902.8,1388.7 2940.4,1388.7 2959.0,1388.0 2996.5,1389.2 3015.4,1390.5 3034.0,1391.8 3052.6,1393.8 3071.5,1392.8 3109.0,1393.5 3127.6,1391.8 3146.2,1389.8 3165.1,1388.7 3183.7,1389.2 3202.6,1391.8 3221.2,1393.8 3240.0,1392.8" fill="none" stroke="#808080" stroke-width="4.17" stroke-linejoin="round"/>
<polyline points="450.0,1157.8 468.7,1156.1 487.4,1158.2 506.2,1159.6 543.6,1158.9 562.4,1158.9 581.1,1159.6 599.8,1161.2 618.6,1163.8 637.3,1162.4 656.1,1162.8 674.8,1161.9 693.5,1163.5 731.0,1165.2 749.7,1168.2 787.2,1171.6 805.9,1171.6 843.4,1175.1 880.9,1174.0 899.6,1175.3 918.4,1174.0 936.8,1177.4 955.5,1177.0 974.3,1174.9 993.0,1175.6 1030.5,1177.2 1049.2,1175.1 1067.9,1173.5 1086.7,1175.1 1124.1,1175.3 1142.9,1178.6 1161.6,1176.3 1180.4,1175.3 1199.1,1179.3 1217.8,1176.3 1236.6,1178.6 1255.3,1177.2 1274.0,1174.0 1292.8,1175.3 1311.5,1176.3 1330.3,1176.7 1349.0,1179.0 1367.5,1177.7 1380.0,1177.7 1386.1,1177.9 1423.6,1177.0 1461.1,1175.8 1479.8,1176.7 1498.6,1178.6 1517.3,1178.6 1536.0,1177.9 1554.8,1176.3 1573.5,1174.0 1592.2,1174.0 1611.0,1172.1 1629.7,1171.2 1648.5,1172.1 1667.2,1170.5 1685.9,1169.3 1704.4,1168.6 1723.2,1169.3 1741.9,1170.5 1760.6,1171.2 1779.4,1172.1 1798.1,1172.8 1816.9,1174.6 1840.0,1174.0 1873.2,1174.0 1891.9,1175.8 1910.7,1176.7 1948.2,1178.6 1966.7,1177.9 1985.4,1176.3 2004.1,1175.3 2022.9,1176.7 2041.6,1176.3 2060.3,1174.6 2097.8,1174.4 2116.6,1175.3 2135.3,1176.3 2172.8,1174.6 2191.5,1175.8 2210.2,1174.9 2229.0,1176.7 2247.7,1176.3 2266.4,1175.1 2300.0,1176.3 2322.6,1178.1 2360.0,1180.4 2378.8,1178.1 2397.5,1176.3 2435.0,1175.8 2453.5,1174.4 2472.2,1172.1 2491.0,1170.5 2528.4,1169.8 2547.2,1172.1 2565.9,1172.8 2584.6,1172.3 2603.4,1169.8 2640.9,1169.3 2659.6,1171.2 2678.3,1172.8 2697.1,1174.0 2734.5,1173.5 2760.0,1171.6 2772.0,1171.5 2790.6,1169.0 2809.2,1169.8 2846.7,1172.8 2865.6,1172.3 2884.2,1173.3 2902.8,1175.3 2921.7,1175.3 2940.4,1176.1 2959.0,1174.0 2996.5,1175.3 3015.4,1176.6 3034.0,1175.8 3071.5,1177.3 3090.1,1177.3 3109.0,1175.8 3146.2,1174.8 3165.1,1177.3 3183.7,1176.6 3202.6,1176.1 3221.2,1174.0 3240.0,1169.8" fill="none" stroke="#808080" stroke-width="4.17" stroke-linejoin="round"/>
<polyline points="450.0,1266.0 487.4,1266.5 506.2,1266.5 543.6,1264.9 562.4,1264.6 581.1,1263.0 599.8,1264.9 618.6,1265.8 656.1,1265.3 693.5,1264.4 731.0,1265.3 768.5,1264.2 805.9,1263.9 824.7,1263.7 862.2,1264.6 899.6,1266.0 918.4,1268.1 955.5,1269.3 993.0,1269.5 1011.7,1268.8 1049.2,1269.9 1067.9,1269.0 1086.7,1269.3 1124.1,1270.6 1142.9,1272.3 1161.6,1273.0 1180.4,1274.6 1199.1,1275.3 1217.8,1276.4 1236.6,1278.0 1255.3,1279.2 1274.0,1279.2 1292.8,1278.0 1311.5,1279.2 1330.3,1279.2 1349.0,1279.4 1367.5,1279.2 1380.0,1278.7 1386.1,1278.5 1423.6,1278.5 1461.1,1279.9 1479.8,1280.4 1498.6,1281.1 1536.0,1280.4 1554.8,1279.7 1573.5,1281.5 1592.2,1282.7 1611.0,1283.8 1629.7,1285.4 1648.5,1286.8 1667.2,1287.3 1704.4,1286.8 1723.2,1288.0 1741.9,1288.5 1760.6,1289.1 1798.1,1288.7 1816.9,1289.6 1840.0,1290.1 1854.5,1291.2 1873.2,1291.9 1891.9,1293.3 1910.7,1295.4 1929.4,1296.6 1966.7,1297.0 1985.4,1300.7 2004.1,1301.6 2022.9,1302.6 2041.6,1303.5 2060.3,1304.4 2079.1,1304.6 2097.8,1306.3 2116.6,1308.6 2135.3,1308.6 2154.0,1308.6 2172.8,1309.3 2191.5,1309.5 2210.2,1309.5 2229.0,1311.1 2247.7,1313.4 2266.4,1313.2 2285.2,1313.4 2300.0,1314.1 2322.6,1315.1 2341.3,1315.8 2378.8,1316.4 2416.2,1315.8 2435.0,1317.8 2453.5,1319.7 2472.2,1319.2 2491.0,1318.8 2509.7,1320.1 2528.4,1320.4 2565.9,1319.2 2584.6,1320.1 2603.4,1321.1 2622.1,1320.6 2659.6,1322.0 2697.1,1322.7 2715.8,1324.8 2734.5,1325.7 2760.0,1327.1 2772.0,1328.8 2809.2,1329.3 2846.7,1330.9 2865.6,1332.1 2884.2,1332.6 2902.8,1334.4 2921.7,1336.9 2940.4,1335.9 2959.0,1336.4 2977.9,1337.4 2996.5,1336.9 3015.4,1336.4 3034.0,1337.9 3052.6,1338.9 3071.5,1339.7 3090.1,1340.4 3109.0,1340.7 3127.6,1341.4 3146.2,1340.9 3165.1,1340.7 3183.7,1341.4 3202.6,1342.4 3221.2,1341.9 3240.0,1342.2" fill="none" stroke="#000" stroke-width="8.33" stroke-linejoin="round" stroke-linecap="square"/>
<polyline points="731.0,1312.7 749.7,1310.4 768.5,1311.8 787.2,1313.4 805.9,1314.6 824.7,1315.8 843.4,1316.9 862.2,1317.4 880.9,1317.8 899.6,1318.5 918.4,1319.0 936.8,1316.9 955.5,1315.8 974.3,1314.6 993.0,1313.9 1011.7,1312.7 1030.5,1313.4 1049.2,1315.8 1067.9,1316.2 1086.7,1316.9 1105.4,1317.8 1124.1,1317.4 1142.9,1318.1 1161.6,1318.5 1180.4,1319.2 1199.1,1315.1 1217.8,1312.3 1236.6,1310.4 1255.3,1308.8 1274.0,1307.2 1292.8,1307.7 1311.5,1308.6 1330.3,1307.2 1349.0,1304.0 1367.5,1301.4 1386.1,1300.0 1404.9,1297.7 1423.6,1295.4 1442.4,1293.1 1461.1,1291.2 1479.8,1289.6 1498.6,1290.1 1517.3,1289.6 1536.0,1289.1 1554.8,1288.0 1573.5,1286.6 1592.2,1285.4 1611.0,1284.3 1629.7,1282.2 1648.5,1278.0" fill="none" stroke="#008000" stroke-width="12.5" stroke-linejoin="round" stroke-linecap="square"/>
</g>
<g stroke="#000" stroke-width="2.08" stroke-dasharray="4.17 12.5" fill="none">
<line x1="619" y1="1838.5" x2="619" y2="210.0"/>
<line x1="993" y1="1838.5" x2="993" y2="210.0"/>
<line x1="1368" y1="1838.5" x2="1368" y2="210.0"/>
<line x1="1742" y1="1838.5" x2="1742" y2="210.0"/>
<line x1="2117" y1="1838.5" x2="2117" y2="210.0"/>
<line x1="2491" y1="1838.5" x2="2491" y2="210.0"/>
<line x1="2866" y1="1838.5" x2="2866" y2="210.0"/>
<line x1="450.0" y1="1566" x2="3240.0" y2="1566"/>
<line x1="450.0" y1="1295" x2="3240.0" y2="1295"/>
<line x1="450.0" y1="1024" x2="3240.0" y2="1024"/>
<line x1="450.0" y1="752" x2="3240.0" y2="752"/>
<line x1="450.0" y1="481" x2="3240.0" y2="481"/>
</g>
<g stroke="#000" stroke-width="2.08" fill="none">
<line x1="619" y1="1837.5" x2="619" y2="1820.83"/><line x1="619" y1="210.0" x2="619" y2="226.67000000000002"/>
<line x1="993" y1="1837.5" x2="993" y2="1820.83"/><line x1="993" y1="210.0" x2="993" y2="226.67000000000002"/>
<line x1="1368" y1="1837.5" x2="1368" y2="1820.83"/><line x1="1368" y1="210.0" x2="1368" y2="226.67000000000002"/>
<line x1="1742" y1="1837.5" x2="1742" y2="1820.83"/><line x1="1742" y1="210.0" x2="1742" y2="226.67000000000002"/>
<line x1="2117" y1="1837.5" x2="2117" y2="1820.83"/><line x1="2117" y1="210.0" x2="2117" y2="226.67000000000002"/>
<line x1="2491" y1="1837.5" x2="2491" y2="1820.83"/><line x1="2491" y1="210.0" x2="2491" y2="226.67000000000002"/>
<line x1="2866" y1="1837.5" x2="2866" y2="1820.83"/><line x1="2866" y1="210.0" x2="2866" y2="226.67000000000002"/>
<line x1="3240" y1="1837.5" x2="3240" y2="1820.83"/><line x1="3240" y1="210.0" x2="3240" y2="226.67000000000002"/>
<line x1="450.0" y1="1838" x2="466.67" y2="1838"/><line x1="3240.0" y1="1838" x2="3223.33" y2="1838"/>
<line x1="450.0" y1="1566" x2="466.67" y2="1566"/><line x1="3240.0" y1="1566" x2="3223.33" y2="1566"/>
<line x1="450.0" y1="1295" x2="466.67" y2="1295"/><line x1="3240.0" y1="1295" x2="3223.33" y2="1295"/>
<line x1="450.0" y1="1024" x2="466.67" y2="1024"/><line x1="3240.0" y1="1024" x2="3223.33" y2="1024"/>
<line x1="450.0" y1="752" x2="466.67" y2="752"/><line x1="3240.0" y1="752" x2="3223.33" y2="752"/>
<line x1="450.0" y1="481" x2="466.67" y2="481"/><line x1="3240.0" y1="481" x2="3223.33" y2="481"/>
<line x1="450.0" y1="210" x2="466.67" y2="210"/><line x1="3240.0" y1="210" x2="3223.33" y2="210"/>
</g>
<rect x="450.0" y="210.0" width="2790.0" height="1628.0" fill="none" stroke="#000" stroke-width="4"/>
<g font-size="58.33px">
<text x="617.3" y="1895" text-anchor="middle">1960</text>
<text x="991.8" y="1895" text-anchor="middle">1980</text>
<text x="1366.3" y="1895" text-anchor="middle">2000</text>
<text x="1740.8" y="1895" text-anchor="middle">2020</text>
<text x="2115.3" y="1895" text-anchor="middle">2040</text>
<text x="2489.8" y="1895" text-anchor="middle">2060</text>
<text x="2864.3" y="1895" text-anchor="middle">2080</text>
<text x="3238.8" y="1895" text-anchor="middle">2100</text>
<text x="433" y="1852.3" text-anchor="end">0</text>
<text x="433" y="1581.0" text-anchor="end">50</text>
<text x="433" y="1309.8" text-anchor="end">100</text>
<text x="433" y="1038.5" text-anchor="end">150</text>
<text x="433" y="767.3" text-anchor="end">200</text>
<text x="433" y="496.1" text-anchor="end">250</text>
<text x="433" y="224.8" text-anchor="end">300</text>
</g>
<text x="1845" y="1968" font-size="58.33px" text-anchor="middle">Gads</text>
<text x="1844" y="190" font-size="70px" text-anchor="middle">Zosēni.Gada</text>
<g transform="translate(306,1585.5) rotate(-90)" font-size="58.33px">
<text x="0" y="0">Saules radiācija uz horizontālas virsmas, </text>
<text transform="translate(958.5,1) scale(1.19,1)" font-size="62px" font-style="italic" stroke="#fff" stroke-width="1.1">W</text>
<text transform="translate(1019.5,14.5)" font-size="89px" stroke="#fff" stroke-width="1.6">/</text>
<text transform="translate(1045.5,1) scale(1.38,1)" font-style="italic" stroke="#fff" stroke-width="1.1">m</text>
<text transform="translate(1102.5,-23) scale(0.5)" font-size="81.6px">2</text>
</g>
<rect x="2615" y="245" width="590" height="417" fill="#fff" stroke="#000" stroke-width="4"/>
<line x1="2662" y1="297.7" x2="2764" y2="297.7" stroke="#808080" stroke-width="4.17"/>
<line x1="2662" y1="396.8" x2="2764" y2="396.8" stroke="#808080" stroke-width="4.17"/>
<line x1="2664" y1="495.7" x2="2762" y2="495.7" stroke="#000" stroke-width="8.33" stroke-linecap="square"/>
<line x1="2658" y1="595.3" x2="2768.5" y2="595.3" stroke="#008000" stroke-width="12.5"/>
<g font-size="70px">
<text x="2839" y="321.2">13%</text>
<text x="2839" y="420.5">87%</text>
<text x="2839" y="519.7">Mediāna</text>
<text x="2839" y="619.0">Novērojumi</text>
</g>
</svg></body></html>
